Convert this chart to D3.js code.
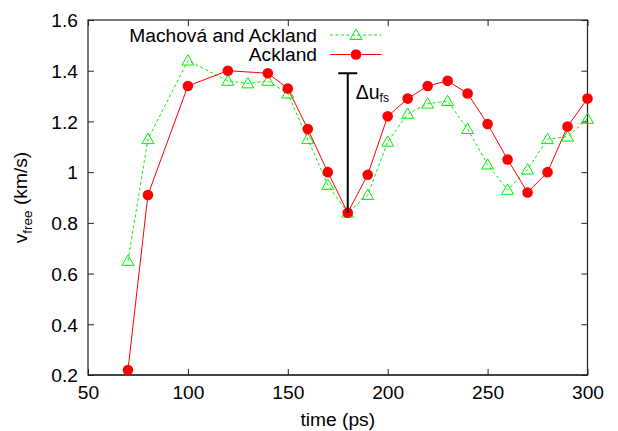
<!DOCTYPE html>
<html>
<head>
<meta charset="utf-8">
<script src="https://cdn.jsdelivr.net/npm/d3@7"></script>
<style>
  html, body { margin: 0; padding: 0; background: #fff; }
  svg { display: block; font-family: "Liberation Sans", Arial, sans-serif; }
</style>
</head>
<body>
<svg id="chart" width="618" height="431"></svg>
<script>
// ---- data ----
const timesMachova = [70, 80, 100, 120, 130, 140, 150, 160, 170, 180, 190, 200, 210, 220, 230, 240, 250, 260, 270, 280, 290, 300];
const valuesMachova = [0.65, 1.13, 1.44, 1.36, 1.35, 1.36, 1.31, 1.13, 0.95, 0.84, 0.91, 1.12, 1.23, 1.27, 1.28, 1.17, 1.03, 0.93, 1.01, 1.13, 1.14, 1.21];
const timesAckland = [70, 80, 100, 120, 140, 150, 160, 170, 180, 190, 200, 210, 220, 230, 240, 250, 260, 270, 280, 290, 300];
const valuesAckland = [0.22, 0.91, 1.34, 1.40, 1.39, 1.33, 1.17, 1.00, 0.84, 0.99, 1.22, 1.29, 1.34, 1.36, 1.31, 1.19, 1.05, 0.92, 1.00, 1.18, 1.29];
const xTicks = [50, 100, 150, 200, 250, 300];
const yTicks = [0.2, 0.4, 0.6, 0.8, 1.0, 1.2, 1.4, 1.6];
const yTickLabels = ["0.2", "0.4", "0.6", "0.8", "1", "1.2", "1.4", "1.6"];
const seriesNames = ["Machová and Ackland", "Ackland"];
const annotation = { t: 180, from: 0.84, to: 1.39, label: "Δu", sub: "fs" };

// ---- layout ----
const svg = d3.select("#chart");
const pLeft = 88, pRight = 587.5, pTop = 20, pBottom = 375;
const x = d3.scaleLinear().domain([50, 300]).range([pLeft, pRight]);
const y = d3.scaleLinear().domain([0.2, 1.6]).range([pBottom, pTop]);
const green = "#00ee00", red = "#ff0000";
const fs = 19.2;

// frame
svg.append("rect").attr("x", pLeft).attr("y", pTop).attr("width", pRight - pLeft).attr("height", pBottom - pTop)
  .attr("fill", "none").attr("stroke", "#222").attr("stroke-width", 1.2);
svg.append("line").attr("x1", pLeft).attr("x2", pRight).attr("y1", pBottom).attr("y2", pBottom)
  .attr("stroke", "#444").attr("stroke-width", 2);

// axes via d3 (ticks inward)
const tickLen = 6;
const gx = svg.append("g").attr("transform", `translate(0,${pBottom})`)
  .call(d3.axisBottom(x).tickValues(xTicks).tickSizeInner(-tickLen).tickSizeOuter(0).tickFormat(d3.format("d")));
const gxt = svg.append("g").attr("transform", `translate(0,${pTop})`)
  .call(d3.axisTop(x).tickValues(xTicks).tickSizeInner(-tickLen).tickSizeOuter(0).tickFormat(""));
const gy = svg.append("g").attr("transform", `translate(${pLeft},0)`)
  .call(d3.axisLeft(y).tickValues(yTicks).tickSizeInner(-tickLen).tickSizeOuter(0)
    .tickFormat((d, i) => yTickLabels[i]));
const gyr = svg.append("g").attr("transform", `translate(${pRight},0)`)
  .call(d3.axisRight(y).tickValues(yTicks).tickSizeInner(-tickLen).tickSizeOuter(0).tickFormat(""));
[gx, gxt, gy, gyr].forEach(g => {
  g.select(".domain").remove();
  g.selectAll(".tick line").attr("stroke", "#222").attr("stroke-width", 1);
  g.selectAll("text").attr("font-size", fs).attr("fill", "#000").attr("font-family", "Liberation Sans, Arial, sans-serif");
});
gx.selectAll(".tick text").attr("dy", null).attr("y", 24);
gy.selectAll(".tick text").attr("dy", "0.35em").attr("x", -10);

// axis titles
svg.append("text").attr("x", (pLeft + pRight) / 2).attr("y", 425.5).attr("text-anchor", "middle")
  .attr("font-size", fs).text("time (ps)");
const yl = svg.append("text").attr("transform", `translate(27,${(pTop + pBottom) / 2}) rotate(-90)`)
  .attr("text-anchor", "middle").attr("font-size", fs);
yl.append("tspan").text("v");
yl.append("tspan").attr("font-size", 13.5).attr("dy", 5).text("free");
yl.append("tspan").attr("dy", -5).text(" (km/s)");

// series
const line = d3.line();
const ptsM = timesMachova.map((t, i) => [x(t), y(valuesMachova[i])]);
const ptsA = timesAckland.map((t, i) => [x(t), y(valuesAckland[i])]);
svg.append("path").attr("d", line(ptsM)).attr("fill", "none").attr("stroke", green)
  .attr("stroke-width", 1).attr("stroke-dasharray", "3,2.5");
svg.append("path").attr("d", line(ptsA)).attr("fill", "none").attr("stroke", red).attr("stroke-width", 1);

const tri = d3.symbol().type(d3.symbolTriangle).size(62);
svg.append("g").selectAll("path").data(ptsM).join("path")
  .attr("transform", d => `translate(${d[0]},${d[1] + 1})`).attr("d", tri())
  .attr("fill", "none").attr("stroke", green).attr("stroke-width", 1);
svg.append("g").selectAll("circle").data(ptsA).join("circle")
  .attr("cx", d => d[0]).attr("cy", d => d[1]).attr("r", 5.3).attr("fill", red);

// annotation
const ax = x(annotation.t);
svg.append("line").attr("x1", ax).attr("x2", ax).attr("y1", y(annotation.to)).attr("y2", y(annotation.from))
  .attr("stroke", "#000").attr("stroke-width", 2);
svg.append("line").attr("x1", ax - 9.5).attr("x2", ax + 9.5).attr("y1", y(annotation.to)).attr("y2", y(annotation.to))
  .attr("stroke", "#000").attr("stroke-width", 2);
const at = svg.append("text").attr("x", ax + 8).attr("y", 99).attr("font-size", 19.5);
at.append("tspan").text(annotation.label);
at.append("tspan").attr("font-size", 12).attr("dy", 3).text(annotation.sub);

// legend
const legY = [35, 54.5];
const legend = svg.append("g");
seriesNames.forEach((name, i) => {
  legend.append("text").attr("x", 317).attr("y", legY[i] + 6.9).attr("text-anchor", "end")
    .attr("font-size", fs).text(name);
  legend.append("line").attr("x1", 330).attr("x2", 381.5).attr("y1", legY[i]).attr("y2", legY[i])
    .attr("stroke", i === 0 ? green : red).attr("stroke-width", 1)
    .attr("stroke-dasharray", i === 0 ? "3,2.5" : null);
  if (i === 0) {
    legend.append("path").attr("transform", `translate(356,${legY[i] + 1})`).attr("d", tri())
      .attr("fill", "none").attr("stroke", green);
  } else {
    legend.append("circle").attr("cx", 356).attr("cy", legY[i]).attr("r", 5.3).attr("fill", red);
  }
});
</script>
</body>
</html>
